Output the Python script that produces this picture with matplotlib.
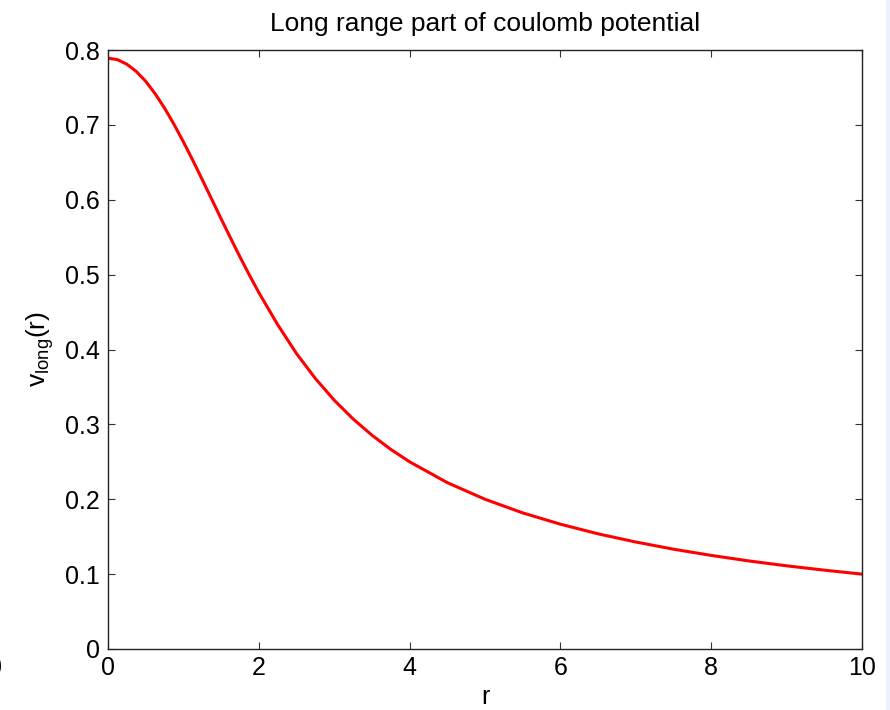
import matplotlib
matplotlib.use("Agg")
import matplotlib.pyplot as plt
from matplotlib.patches import Rectangle

plt.rcParams['font.family'] = ['Liberation Sans', 'DejaVu Sans']

r_vals = [0, 0.125, 0.25, 0.375, 0.5, 0.625, 0.75, 0.875, 1.0, 1.125, 1.25,
          1.375, 1.5, 1.625, 1.75, 1.875, 2.0, 2.25, 2.5, 2.75,
          3.0, 3.25, 3.5, 3.75, 4.0, 4.5, 5.0, 5.5, 6.0, 6.5, 7.0, 7.5,
          8.0, 8.5, 9.0, 9.5, 10.0]
v_long = [0.7891, 0.7871, 0.7810, 0.7714, 0.7582, 0.7416, 0.7224, 0.7008,
          0.6773, 0.6526, 0.6269, 0.6008, 0.5746, 0.5489, 0.5237, 0.4994,
          0.4761, 0.4332, 0.3946, 0.3613, 0.3323, 0.3073, 0.2856, 0.2666,
          0.2500, 0.2222, 0.2000, 0.1818, 0.1667, 0.1538, 0.1429, 0.1333,
          0.1250, 0.1176, 0.1111, 0.1053, 0.1000]
x_ticks = [0, 2, 4, 6, 8, 10]
y_ticks = [0, 0.1, 0.2, 0.3, 0.4, 0.5, 0.6, 0.7, 0.8]
y_tick_labels = ['0', '0.1', '0.2', '0.3', '0.4', '0.5', '0.6', '0.7', '0.8']

fig = plt.figure(figsize=(8.9, 7.1), dpi=100)
fig.patches.append(Rectangle((886 / 890, 0), 4 / 890, 1, transform=fig.transFigure,
                             color='#eaf3fd', zorder=0))
ax = fig.add_axes([108 / 890, 61 / 710, 754 / 890, 599 / 710])
ax.plot(r_vals, v_long, color='red', linewidth=2.2, solid_capstyle='butt',
        solid_joinstyle='round')
ax.set_xlim(0, 10)
ax.set_ylim(0, 0.8)
ax.set_xticks(x_ticks)
ax.set_xticklabels([str(t) for t in x_ticks])
ax.set_yticks(y_ticks)
ax.set_yticklabels(y_tick_labels)
ax.tick_params(direction='in', length=5, width=0.8, top=True, right=True,
               labelsize=18, color='#333333')
ax.tick_params(axis='x', pad=5)
ax.tick_params(axis='y', pad=6)
for s in ax.spines.values():
    s.set_linewidth(1.0)
    s.set_color('#222222')
ax.set_title('Long range part of coulomb potential', fontsize=19, pad=14)
ax.set_xlabel('r', fontsize=18, labelpad=4)
ax.set_ylabel(r'v$_{\mathregular{long}}$(r)', fontsize=19, labelpad=6)
fig.text(-5 / 890, 1 - 668 / 710, '0', fontsize=18, ha='center', va='center')
fig.savefig('out.png', dpi=100)
